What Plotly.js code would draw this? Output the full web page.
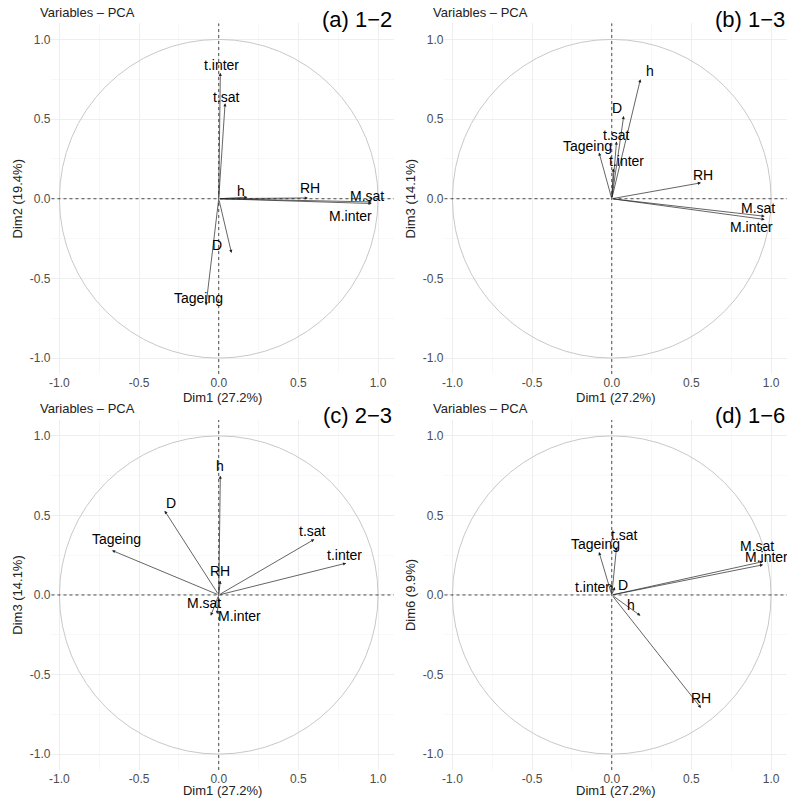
<!DOCTYPE html>
<html>
<head>
<meta charset="utf-8">
<script src="https://cdn.plot.ly/plotly-3.0.1.min.js"></script>
<style>body{margin:0;background:#fff}#chart{width:787px;height:798px}</style>
</head>
<body>
<div id="chart"></div>
<script>
const varNames = ["t.inter", "t.sat", "h", "RH", "M.sat", "M.inter", "D", "Tageing"];

// arrow tips per panel (x, y) and label positions
const panelTags = ["(a) 1\u22122", "(b) 1\u22123", "(c) 2\u22123", "(d) 1\u22126"];
const panelYTitles = ["Dim2 (19.4%)", "Dim3 (14.1%)", "Dim3 (14.1%)", "Dim6 (9.9%)"];

const tipX_a = [0.01, 0.04, 0.18, 0.56, 0.96, 0.96, 0.08, -0.08];
const tipY_a = [0.79, 0.60, 0.01, 0.005, -0.02, -0.03, -0.34, -0.67];
const labX_a = [0.02, 0.05, 0.14, 0.57, 0.93, 0.83, -0.01, -0.13];
const labY_a = [0.84, 0.64, 0.05, 0.07, 0.02, -0.11, -0.29, -0.62];

const tipX_b = [0.01, 0.03, 0.18, 0.56, 0.96, 0.96, 0.075, -0.08];
const tipY_b = [0.19, 0.36, 0.75, 0.10, -0.11, -0.13, 0.52, 0.29];
const labX_b = [0.09, 0.03, 0.24, 0.57, 0.92, 0.88, 0.03, -0.15];
const labY_b = [0.24, 0.40, 0.80, 0.15, -0.06, -0.18, 0.57, 0.33];

const tipX_c = [0.80, 0.60, 0.01, 0.01, -0.05, -0.01, -0.34, -0.67];
const tipY_c = [0.20, 0.35, 0.75, 0.09, -0.13, -0.12, 0.53, 0.28];
const labX_c = [0.79, 0.59, 0.01, 0.01, -0.09, 0.13, -0.30, -0.64];
const labY_c = [0.25, 0.40, 0.81, 0.15, -0.05, -0.13, 0.58, 0.35];

const tipX_d = [-0.005, 0.03, 0.18, 0.56, 0.95, 0.95, 0.02, -0.08];
const tipY_d = [0.07, 0.30, -0.13, -0.71, 0.21, 0.19, 0.05, 0.27];
const labX_d = [-0.12, 0.08, 0.12, 0.56, 0.91, 0.97, 0.07, -0.10];
const labY_d = [0.05, 0.38, -0.06, -0.65, 0.31, 0.24, 0.06, 0.32];

const panels = [
  [tipX_a, tipY_a, labX_a, labY_a],
  [tipX_b, tipY_b, labX_b, labY_b],
  [tipX_c, tipY_c, labX_c, labY_c],
  [tipX_d, tipY_d, labX_d, labY_d],
];

const xDomains = [[0.0654, 0.5006], [0.5648, 1.0], [0.0654, 0.5006], [0.5648, 1.0]];
const yDomains = [[0.5313, 0.9706], [0.5313, 0.9706], [0.0351, 0.4737], [0.0351, 0.4737]];

const tickVals = [-1, -0.5, 0, 0.5, 1];
const tickText = ["-1.0", "-0.5", "0.0", "0.5", "1.0"];

const data = [];
const shapes = [];
const annotations = [];
const layout = {
  width: 787, height: 798,
  margin: { l: 0, r: 0, t: 0, b: 0 },
  paper_bgcolor: "white", plot_bgcolor: "white",
  showlegend: false,
  font: { family: "Liberation Sans, Arial, sans-serif", size: 12, color: "#000" },
};

panels.forEach((p, k) => {
  const n = k + 1;
  const xa = "x" + (n === 1 ? "" : n), ya = "y" + (n === 1 ? "" : n);
  const axCommon = {
    tickvals: tickVals, ticktext: tickText,
    showgrid: true, gridcolor: "#ebebeb", gridwidth: 0.8,
    minor: { dtick: 0.25, tick0: 0, showgrid: true, gridcolor: "#f3f3f3", gridwidth: 0.6 },
    zeroline: false, showline: false, ticks: "",
    tickfont: { size: 12, color: "#4d4d4d" },
    fixedrange: true,
  };
  layout["xaxis" + (n === 1 ? "" : n)] = Object.assign({}, axCommon, {
    domain: xDomains[k], range: [-1.05, 1.1], anchor: ya,
    title: { text: "Dim1 (27.2%)", font: { size: 13, color: "#222" }, standoff: 0 },
  });
  layout["yaxis" + (n === 1 ? "" : n)] = Object.assign({}, axCommon, {
    domain: yDomains[k], range: [-1.1, 1.1], anchor: xa,
    title: { text: panelYTitles[k], font: { size: 13, color: "#222" }, standoff: 4 },
  });

  // invisible trace so the axes get drawn
  data.push({ x: [0], y: [0], xaxis: xa, yaxis: ya, mode: "markers",
    marker: { opacity: 0 }, hoverinfo: "skip", type: "scatter" });

  shapes.push({ type: "circle", xref: xa, yref: ya, x0: -1, y0: -1, x1: 1, y1: 1,
    line: { color: "#c8c8c8", width: 1 } });
  shapes.push({ type: "line", xref: xa + " domain", yref: ya, x0: 0, x1: 1, y0: 0, y1: 0,
    line: { color: "#000", width: 0.7, dash: "3px,3px" } });
  shapes.push({ type: "line", xref: xa, yref: ya + " domain", x0: 0, x1: 0, y0: 0, y1: 1,
    line: { color: "#000", width: 0.7, dash: "3px,3px" } });

  const [tx, ty, lx, ly] = p;
  varNames.forEach((name, i) => {
    annotations.push({ xref: xa, yref: ya, axref: xa, ayref: ya,
      x: tx[i], y: ty[i], ax: 0, ay: 0, text: "", showarrow: true,
      arrowhead: 2, arrowsize: 0.9, arrowwidth: 0.7, arrowcolor: "#222" });
  });
  varNames.forEach((name, i) => {
    annotations.push({ xref: xa, yref: ya, x: lx[i], y: ly[i], text: name,
      showarrow: false, font: { size: 14, color: "#000" } });
  });

  annotations.push({ xref: xa + " domain", yref: ya + " domain", x: -0.04, y: 1.005,
    xanchor: "left", yanchor: "bottom", text: "Variables \u2013 PCA", showarrow: false,
    font: { size: 13, color: "#222" } });
  annotations.push({ xref: xa + " domain", yref: ya + " domain", x: 1.0, y: 0.97,
    xanchor: "right", yanchor: "bottom", text: panelTags[k], showarrow: false,
    font: { size: 22, color: "#000" } });
});

layout.shapes = shapes;
layout.annotations = annotations;

Plotly.newPlot("chart", data, layout, { staticPlot: true });
</script>
</body>
</html>
